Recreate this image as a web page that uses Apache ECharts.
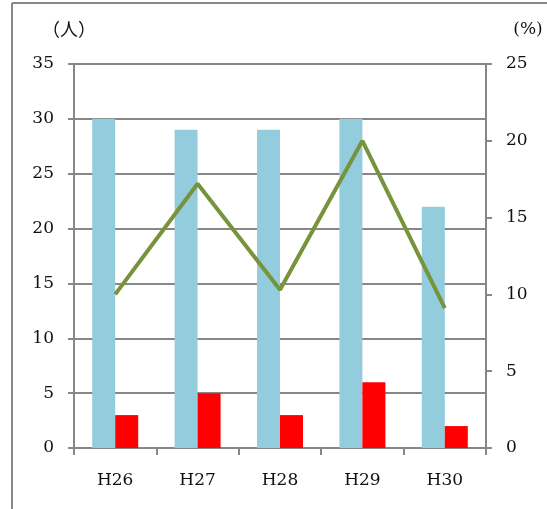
<!DOCTYPE html>
<html>
<head>
<meta charset="utf-8">
<script src="https://cdn.jsdelivr.net/npm/echarts@6/dist/echarts.min.js"></script>
<style>
  html, body { margin: 0; padding: 0; background: #fff; }
  #chart { width: 547px; height: 509px; }
</style>
</head>
<body>
<div id="chart"></div>
<script>
// Yearly head counts (left axis, persons) and rate (right axis, %)
const years = ['H26', 'H27', 'H28', 'H29', 'H30'];
const totalCount = [30, 29, 29, 30, 22];
const subCount = [3, 5, 3, 6, 2];
const ratePercent = [10.0, 17.2, 10.3, 20.0, 9.1];

const leftUnit = '（人）';
const rightUnit = '(%)';

const gray = '#878787';
const serif = '"DejaVu Serif", "Liberation Serif", serif';
const labelStyle = { color: '#111', fontFamily: serif, fontSize: 17 };

const chart = echarts.init(document.getElementById('chart'), null, { renderer: 'canvas' });

chart.setOption({
  animation: false,
  backgroundColor: '#fff',
  grid: { left: 74, right: 61, top: 64, bottom: 61 },
  graphic: [
    // outer frame (top and left edges)
    { type: 'line', shape: { x1: 12, y1: 3, x2: 547, y2: 3 }, style: { stroke: gray, lineWidth: 2 } },
    { type: 'line', shape: { x1: 12, y1: 3, x2: 12, y2: 509 }, style: { stroke: gray, lineWidth: 2 } }
  ],
  xAxis: {
    type: 'category',
    data: years,
    boundaryGap: true,
    axisLine: { lineStyle: { color: gray, width: 2 } },
    axisTick: { show: true, length: 7, inside: false, lineStyle: { color: gray, width: 2 } },
    axisLabel: Object.assign({ margin: 24 }, labelStyle),
    splitLine: { show: false }
  },
  yAxis: [
    {
      type: 'value',
      min: 0, max: 35, interval: 5,
      position: 'left',
      name: leftUnit,
      nameLocation: 'end',
      nameGap: 26,
      nameTextStyle: { color: '#111', fontFamily: '"Noto Sans CJK JP", serif', fontSize: 18, padding: [0, 10, 0, 0] },
      axisLine: { show: true, lineStyle: { color: gray, width: 2 } },
      axisTick: { show: true, length: 6, lineStyle: { color: gray, width: 2 } },
      axisLabel: Object.assign({ margin: 20 }, labelStyle),
      splitLine: { show: true, lineStyle: { color: gray, width: 2 } }
    },
    {
      type: 'value',
      min: 0, max: 25, interval: 5,
      position: 'right',
      name: rightUnit,
      nameLocation: 'end',
      nameGap: 26,
      nameTextStyle: { color: '#111', fontFamily: serif, fontSize: 17, padding: [0, 0, 0, 84] },
      axisLine: { show: true, lineStyle: { color: gray, width: 2 } },
      axisTick: { show: true, length: 6, lineStyle: { color: gray, width: 2 } },
      axisLabel: Object.assign({ margin: 20 }, labelStyle),
      splitLine: { show: false }
    }
  ],
  series: [
    {
      type: 'bar',
      data: totalCount,
      yAxisIndex: 0,
      barWidth: 23,
      barGap: '0%',
      itemStyle: { color: '#93CDDD' },
      z: 2
    },
    {
      type: 'bar',
      data: subCount,
      yAxisIndex: 0,
      barWidth: 23,
      barGap: '0%',
      itemStyle: { color: '#FF0000' },
      z: 2
    },
    {
      type: 'line',
      data: ratePercent,
      yAxisIndex: 1,
      symbol: 'none',
      lineStyle: { color: '#77933C', width: 4 },
      z: 5
    }
  ]
});
</script>
</body>
</html>
